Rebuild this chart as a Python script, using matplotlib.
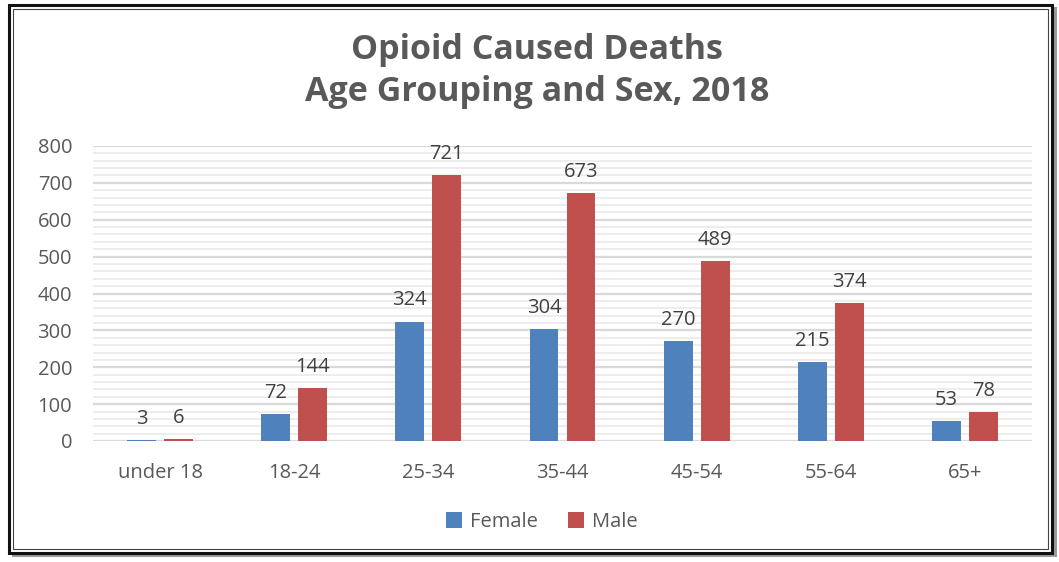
import matplotlib
matplotlib.use("Agg")
import matplotlib.pyplot as plt
import numpy as np
from matplotlib.patches import Rectangle

categories = ["under 18", "18-24", "25-34", "35-44", "45-54", "55-64", "65+"]
female = [3, 72, 324, 304, 270, 215, 53]
male = [6, 144, 721, 673, 489, 374, 78]
yticks = [0, 100, 200, 300, 400, 500, 600, 700, 800]

plt.rcParams['font.family'] = ['Open Sans', 'DejaVu Sans']

W, H = 1059, 562
fig = plt.figure(figsize=(W / 100, H / 100), dpi=100)
fig.patch.set_facecolor('white')

# frame with shadow
fig.patches.append(Rectangle((12 / W, 1 - 557 / H), 1045 / W, 550 / H, transform=fig.transFigure,
                             facecolor='#9a9a9a', edgecolor='none', zorder=0))
fig.patches.append(Rectangle((9 / W, 1 - 553 / H), 1043 / W, 548 / H, transform=fig.transFigure,
                             facecolor='white', edgecolor='#111111', linewidth=2.2, zorder=1))
fig.patches.append(Rectangle((13 / W, 1 - 549 / H), 1035 / W, 540 / H, transform=fig.transFigure,
                             facecolor='white', edgecolor='#444444', linewidth=0.8, zorder=1))

ax = fig.add_axes([93 / W, 1 - 441 / H, 939 / W, 295 / H])
ax.set_facecolor('none')
ax.set_zorder(2)

x = np.arange(len(categories))
bw = 0.215
off = 0.138
fc = '#4f81bd'
mc = '#c0504d'
b1 = ax.bar(x - off, female, bw, color=fc, label='Female', zorder=3)
b2 = ax.bar(x + off, male, bw, color=mc, label='Male', zorder=3)

for bars, vals in ((b1, female), (b2, male)):
    for r, v in zip(bars, vals):
        ax.annotate(str(v), (r.get_x() + r.get_width() / 2, v), xytext=(0, 8),
                    textcoords='offset points', ha='center', va='bottom',
                    fontsize=14.5, color='#404040')

ax.set_xlim(-0.5, len(categories) - 0.5)
ax.set_ylim(0, 800)
ax.set_yticks(yticks)
ax.set_yticklabels([str(t) for t in yticks])
ax.set_yticks(np.arange(0, 801, 20), minor=True)
ax.grid(axis='y', which='major', color='#d9d9d9', linewidth=1.6, zorder=0)
ax.grid(axis='y', which='minor', color='#ececec', linewidth=1.3, zorder=0)
ax.set_xticks(x)
ax.set_xticklabels(categories)
for s in ax.spines.values():
    s.set_visible(False)
ax.tick_params(axis='both', which='both', length=0, labelsize=14.5, labelcolor='#595959')
ax.tick_params(axis='y', pad=15)
ax.tick_params(axis='x', pad=16)

fig.text(537 / W, 1 - 71 / H, "Opioid Caused Deaths\nAge Grouping and Sex, 2018", ha='center', va='center',
         fontsize=24.5, fontweight='bold', color='#595959', linespacing=1.32, zorder=3)

leg = fig.legend(handles=[b1, b2], labels=['Female', 'Male'], loc='center',
                 bbox_to_anchor=(542 / W, 1 - 522 / H), ncol=2, frameon=False,
                 fontsize=14.5, handlelength=0.8, handleheight=0.8, handletextpad=0.4,
                 columnspacing=1.5, labelcolor='#595959')
leg.set_zorder(3)

fig.savefig('out.png', dpi=100)
